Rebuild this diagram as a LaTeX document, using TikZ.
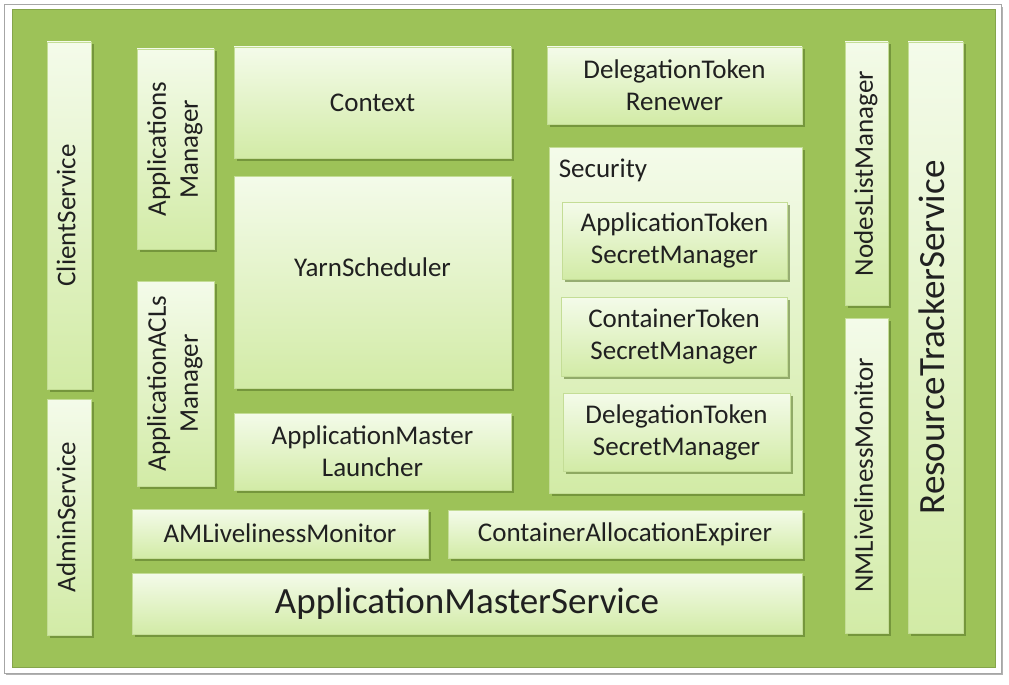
\documentclass[tikz,border=0pt]{standalone}
\usepackage{fontspec}
\setmainfont{Carlito}
\usetikzlibrary{shadows, positioning}
\definecolor{boardgreen}{RGB}{157,194,88}
\definecolor{boxtop}{RGB}{244,251,234}
\definecolor{boxbottom}{RGB}{210,235,166}
\definecolor{boxedge}{RGB}{196,221,150}
\definecolor{shadowgreen}{RGB}{85,115,38}
\definecolor{textgrey}{RGB}{32,32,32}
\newcommand{\uptext}[1]{\rotatebox{90}{\begin{tabular}{@{}c@{}}#1\end{tabular}}}
\tikzset{
  frame/.style   = {fill=white, draw=black!35, line width=1pt,
                    drop shadow={shadow xshift=2pt, shadow yshift=-2pt,
                                 fill=black!60, opacity=0.5}},
  board/.style   = {fill=boardgreen, draw=boardgreen!85!black, line width=1pt},
  comp/.style    = {rectangle, top color=boxtop, bottom color=boxbottom,
                    draw=boxedge, line width=0.8pt, inner sep=0pt, align=center,
                    text=textgrey, font=\fontsize{27}{32}\selectfont,
                    drop shadow={shadow xshift=2.5pt, shadow yshift=-2.5pt,
                                 fill=shadowgreen, opacity=0.55}},
  bigcomp/.style = {comp, font=\fontsize{37}{44}\selectfont},
  title/.style   = {text=textgrey, font=\fontsize{27}{32}\selectfont,
                    inner sep=0pt, anchor=base west}
}

\begin{document}
\begin{tikzpicture}[x=1pt, y=-1pt]
\useasboundingbox (0,0) rectangle (1009,685);
% Frame and green board
\draw[frame] (4,5) rectangle (1001,673);
\draw[board] (12,10) rectangle (995,667);
% Left services
\node[comp, minimum width=44, minimum height=347] (client) at (69,215.5) {\uptext{ClientService}};
\node[comp, minimum width=44, minimum height=236] (admin) at (69,517) {\uptext{AdminService}};
% Managers
\node[comp, minimum width=77, minimum height=200] (appsmgr) at (175.5,149) {\uptext{Applications\\Manager}};
\node[comp, minimum width=77, minimum height=205] (aclsmgr) at (175.5,383.5) {\uptext{ApplicationACLs\\Manager}};
% Core
\node[comp, minimum width=277, minimum height=111] (context) at (372.5,102.5) {Context};
\node[comp, minimum width=277, minimum height=212] (sched) at (372.5,282) {\raisebox{15pt}[\height][\depth]{YarnScheduler}};
\node[comp, minimum width=277, minimum height=77] (launcher) at (372.5,451.5) {ApplicationMaster\\Launcher};
\node[comp, minimum width=255, minimum height=77] (renewer) at (674.5,85.5) {DelegationToken\\Renewer};
% Security
\node[comp, minimum width=253, minimum height=346] (sec) at (675.5,320) {};
\node[title] (sectitle) at ([xshift=10pt, yshift=-31pt]sec.north west) {Security};
\node[comp, minimum width=225, minimum height=77] (apptoken) at (674.5,240.5) {ApplicationToken\\SecretManager};
\node[comp, minimum width=226, minimum height=79] (cttoken) at (674,336.5) {ContainerToken\\SecretManager};
\node[comp, minimum width=227, minimum height=78] (dttoken) at (676.5,432) {DelegationToken\\SecretManager};
% Monitors and AM service
\node[comp, minimum width=296, minimum height=49] (ammon) at (280,533.5) {AMLivelinessMonitor};
\node[comp, minimum width=354, minimum height=48] (expirer) at (625,534) {ContainerAllocationExpirer};
\node[bigcomp, minimum width=670, minimum height=61] (amservice) at (467,603.5) {ApplicationMasterService};
% Node side
\node[comp, minimum width=43, minimum height=263] (nodes) at (866.5,173.5) {\uptext{NodesListManager}};
\node[comp, minimum width=43, minimum height=315] (nmmon) at (866.5,475.5) {\uptext{NMLivelinessMonitor}};
\node[bigcomp, minimum width=55, minimum height=591] (tracker) at (935.5,337.5) {\uptext{ResourceTrackerService}};
\end{tikzpicture}
\end{document}
